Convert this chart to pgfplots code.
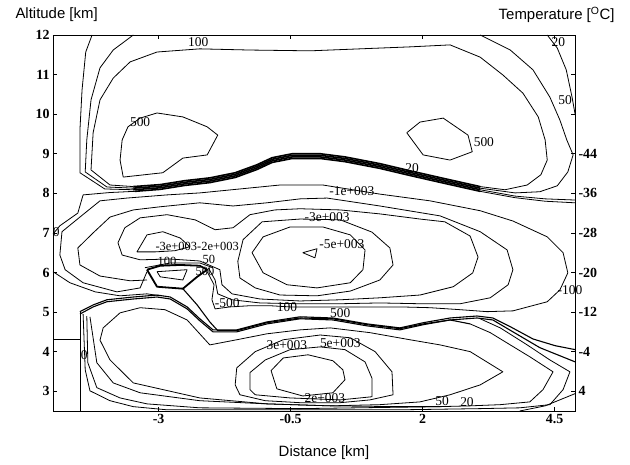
\documentclass[border=0pt]{standalone}
\usepackage{fontspec}
\setmainfont{Liberation Serif}
\newfontfamily\sansf{Liberation Sans}
\usepackage{pgfplots}
\pgfplotsset{compat=1.18}
\tikzset{c/.style={black, line width=0.8bp, line join=round},
  bd/.style={black, line width=1.6bp, line join=round},
  thk/.style={black, line width=1.8bp, line join=round},
  lab/.style={font=\fontsize{13.5}{13.5}\selectfont, inner sep=0pt},
  labs/.style={font=\fontsize{12.5}{12.5}\selectfont, inner sep=0pt}}
\begin{document}
\begin{tikzpicture}[x=1bp,y=1bp]
\useasboundingbox (-53,-54) rectangle (577,411);
\begin{axis}[
  at={(0,0)}, anchor=south west,
  scale only axis, width=522bp, height=376bp,
  xmin=-5, xmax=4.886, ymin=2.5, ymax=12,
  xtick={-3,-0.5,2,4.5}, xticklabels={-3,-0.5,2,4.5},
  ytick={3,4,5,6,7,8,9,10,11,12}, yticklabels={3,4,5,6,7,8,9,10,11,12},
  tick align=inside, major tick length=4bp,
  tick style={black, line width=0.6bp},
  ticklabel style={font=\bfseries\fontsize{14}{14}\selectfont},
  /pgf/number format/assume math mode=true,
  axis line style={black, line width=0.8bp},
  clip mode=individual,
]
% upper region: 20 line (left part thin, band part heavy)
\addplot[c] coordinates {(-4.26,12.00) (-4.38,11.57) (-4.45,10.61) (-4.49,9.60) (-4.49,8.52) (-4.02,8.11) (-3.48,8.09)};
\addplot[bd] coordinates {(-3.48,8.09) (-2.97,8.14) (-2.50,8.24) (-2.03,8.31) (-1.55,8.44) (-1.14,8.64) (-0.85,8.82) (-0.47,8.92) (0.06,8.92) (0.53,8.84) (1.19,8.67) (1.76,8.49) (2.42,8.29) (3.09,8.09)};
\addplot[c] coordinates {(3.09,8.09) (3.75,7.93) (4.32,7.86) (4.89,7.83)};
% 50 line
\addplot[c] coordinates {(-3.48,12.00) (-3.86,11.62) (-4.11,11.17) (-4.28,10.36) (-4.36,9.35) (-4.39,8.54) (-3.98,8.16) (-3.48,8.13)};
\addplot[bd] coordinates {(-3.48,8.13) (-2.97,8.18) (-2.50,8.28) (-2.03,8.35) (-1.55,8.48) (-1.14,8.68) (-0.85,8.86) (-0.47,8.96) (0.06,8.96) (0.53,8.88) (1.19,8.71) (1.76,8.53) (2.42,8.33) (3.09,8.13)};
\addplot[c] coordinates {(3.09,8.13) (3.75,8.01) (4.22,8.04) (4.55,8.19) (4.75,8.54) (4.85,8.97) (4.73,9.35) (4.60,9.85) (4.41,10.43) (4.09,11.12) (3.66,11.62) (3.09,12.00)};
% 100 line (closed)
\addplot[c] coordinates {(3.09,8.17) (3.56,8.09) (3.98,8.21) (4.24,8.47) (4.36,8.84) (4.32,9.35) (4.19,9.93) (3.90,10.53) (3.52,10.99) (3.09,11.44) (2.52,11.75) (1.76,11.70) (0.81,11.65) (-0.13,11.60) (-1.27,11.62) (-2.22,11.65) (-3.03,11.57) (-3.54,11.32) (-3.86,10.91) (-4.11,10.36) (-4.24,9.53) (-4.28,8.59) (-3.92,8.21) (-3.48,8.17)};
\addplot[bd] coordinates {(-3.48,8.17) (-2.97,8.22) (-2.50,8.32) (-2.03,8.39) (-1.55,8.52) (-1.14,8.72) (-0.85,8.90) (-0.47,9.00) (0.06,9.00) (0.53,8.92) (1.19,8.75) (1.76,8.57) (2.42,8.37) (3.09,8.17)};
\addplot[c] coordinates {(4.36,12.00) (4.55,11.67) (4.72,11.12) (4.83,10.43) (4.89,9.98)};
\addplot[c] coordinates {(-3.03,10.03) (-2.54,9.93) (-2.08,9.68) (-1.88,9.47) (-2.08,8.97) (-2.54,8.89) (-2.92,8.52) (-3.67,8.41) (-3.73,8.84) (-3.69,9.35) (-3.58,9.68) (-3.35,9.90) (-3.03,10.03)};
\addplot[c] coordinates {(1.70,9.53) (1.95,9.80) (2.39,9.90) (2.86,9.47) (2.94,9.05) (2.52,8.84) (2.01,8.97) (1.70,9.53)};
% zero line
\addplot[c] coordinates {(-5.00,6.97) (-4.87,7.18) (-4.53,7.50) (-4.43,7.96) (-3.92,8.02) (-3.45,8.05)};
\addplot[bd] coordinates {(-3.45,8.05) (-2.97,8.10) (-2.50,8.20) (-2.03,8.27) (-1.55,8.40) (-1.14,8.60) (-0.85,8.78) (-0.47,8.88) (0.06,8.88) (0.53,8.80) (1.19,8.63) (1.76,8.45) (2.42,8.25) (3.09,8.05)};
\addplot[c] coordinates {(3.09,8.05) (3.75,7.89) (4.32,7.80) (4.89,7.76)};
\addplot[c] coordinates {(-5.00,6.02) (-4.68,5.74) (-4.20,5.51) (-3.73,5.41) (-3.22,5.46) (-2.97,5.41)};
% negative region
\addplot[c] coordinates {(-3.22,6.02) (-3.35,5.61) (-3.79,5.51) (-4.43,5.74) (-4.77,6.07) (-4.87,6.44) (-4.83,7.03) (-4.49,7.40) (-4.11,7.81) (-3.60,7.88) (-2.84,7.96) (-2.22,8.01) (-1.46,8.11) (-0.70,8.21) (0.11,8.21) (1.19,7.98) (2.14,7.81) (3.09,7.56) (3.71,7.30) (4.36,6.90) (4.66,6.50) (4.75,5.99) (4.60,5.56) (4.36,5.26) (3.71,5.03) (3.22,5.01) (2.71,5.06) (2.14,5.11) (1.57,5.13) (1.00,5.13) (0.44,5.13) (-0.08,5.13) (-0.51,5.13) (-0.89,5.16) (-1.27,5.16) (-1.65,5.13) (-1.93,5.08) (-1.99,5.31) (-1.95,5.69) (-2.08,6.02)};
\addplot[c] coordinates {(-3.22,5.81) (-3.54,5.79) (-4.11,5.91) (-4.49,6.19) (-4.53,6.62) (-4.24,7.00) (-3.92,7.40) (-3.48,7.58) (-2.97,7.66) (-2.22,7.76) (-1.59,7.68) (-0.95,7.76) (-0.32,7.86) (0.19,7.88) (1.19,7.68) (2.33,7.43) (3.09,7.03) (3.60,6.57) (3.71,6.07) (3.62,5.69) (3.28,5.36) (2.71,5.21) (1.95,5.21) (1.19,5.23) (0.44,5.21) (-0.32,5.21) (-1.08,5.23) (-1.61,5.31) (-1.88,5.46) (-1.93,5.81) (-2.06,6.12)};
\addplot[c] coordinates {(-3.77,6.75) (-3.64,7.13) (-3.35,7.38) (-2.84,7.46) (-2.31,7.33) (-1.93,7.08) (-1.59,7.13) (-1.27,7.46) (-0.80,7.58) (-0.32,7.61) (0.44,7.58) (1.19,7.48) (1.95,7.35) (2.42,7.28) (2.90,6.92) (3.05,6.39) (2.95,5.99) (2.58,5.64) (1.95,5.43) (1.19,5.36) (0.44,5.31) (-0.32,5.28) (-1.08,5.33) (-1.61,5.46) (-1.80,5.69) (-1.84,6.07) (-2.22,6.29) (-2.78,6.34) (-3.35,6.32) (-3.69,6.44) (-3.77,6.75)};
\addplot[c] coordinates {(-1.50,6.28) (-1.40,6.83) (-1.04,7.28) (-0.32,7.35) (0.44,7.33) (1.04,7.02) (1.38,6.62) (1.44,6.19) (1.19,5.81) (0.63,5.53) (0.00,5.41) (-0.70,5.43) (-1.17,5.61) (-1.46,5.86) (-1.50,6.28)};
\addplot[c] coordinates {(-1.23,6.50) (-1.02,6.90) (-0.51,7.15) (0.11,7.15) (0.63,6.95) (0.91,6.57) (0.87,6.07) (0.63,5.74) (0.00,5.61) (-0.57,5.69) (-1.02,5.99) (-1.23,6.50)};
\addplot[c] coordinates {(-0.27,6.50) (0.00,6.60) (-0.04,6.37) (-0.27,6.50)};
\addplot[c] coordinates {(-3.41,6.52) (-3.22,6.95) (-2.92,7.03) (-2.59,6.87) (-2.41,6.65) (-2.69,6.55) (-3.07,6.52) (-3.41,6.52)};
% hexagon cluster
\addplot[thk] coordinates {(-3.22,6.07) (-3.03,5.64) (-2.54,5.59) (-2.27,5.89) (-2.08,6.07) (-2.22,6.17) (-2.59,6.19) (-2.97,6.17) (-3.22,6.07)};
\addplot[c] coordinates {(-3.03,6.02) (-2.46,6.07) (-2.54,5.81) (-2.97,5.89) (-3.03,6.02)};
\addplot[c] coordinates {(-3.26,6.12) (-2.78,6.24) (-2.22,6.24) (-1.97,6.12)};
% lower band
\addplot[c, line width=1.1bp] coordinates {(-4.49,5.01) (-4.24,5.18) (-3.98,5.31) (-3.48,5.38) (-3.03,5.43) (-2.78,5.38) (-2.46,5.13) (-2.22,4.83) (-1.97,4.55) (-1.52,4.55) (-0.95,4.75) (-0.32,4.88) (0.30,4.85) (0.95,4.70) (1.57,4.60) (2.01,4.73) (2.52,4.85) (3.03,4.90) (3.33,4.85) (3.66,4.63) (4.09,4.32) (4.51,4.15) (4.89,4.05)};
\addplot[c, line width=1.1bp] coordinates {(-4.49,4.95) (-4.24,5.13) (-3.98,5.26) (-3.48,5.33) (-3.03,5.38) (-2.78,5.33) (-2.46,5.08) (-2.22,4.78) (-1.97,4.50) (-1.52,4.50) (-0.95,4.70) (-0.32,4.83) (0.30,4.80) (0.95,4.65) (1.57,4.55) (2.01,4.68) (2.52,4.80) (3.03,4.85) (3.33,4.80) (3.71,4.50) (4.22,4.10) (4.89,3.74)};
\addplot[c, line width=1.1bp] coordinates {(-2.54,5.59) (-2.27,5.18) (-2.03,4.75) (-1.88,4.53) (-1.52,4.53) (-0.95,4.73) (-0.32,4.85) (0.30,4.83) (0.95,4.68) (1.57,4.58) (2.01,4.70) (2.52,4.80) (2.90,4.70)};
\addplot[c] coordinates {(2.90,4.70) (3.28,4.48) (3.66,4.17) (4.03,3.87) (4.47,3.49) (4.28,3.04) (4.03,2.73) (3.47,2.66) (2.90,2.63) (2.33,2.61) (-0.32,2.56) (-2.22,2.58) (-3.22,2.68) (-3.73,2.83) (-4.17,3.09) (-4.34,3.72) (-4.36,4.90)};
\addplot[c] coordinates {(3.09,4.83) (3.47,4.60) (3.98,4.17) (4.41,3.79) (4.79,3.49) (4.66,3.04) (4.41,2.66) (3.84,2.58) (3.09,2.56) (1.57,2.53) (-0.32,2.53) (-2.84,2.53) (-3.48,2.61) (-3.92,2.76) (-4.30,3.01) (-4.39,3.54) (-4.43,4.95)};
\addplot[c] coordinates {(-4.30,4.88) (-4.17,3.72) (-3.86,3.21) (-3.35,2.96) (-2.22,2.76) (-0.95,2.68) (0.25,2.63) (1.57,2.61) (2.33,2.61)};
\addplot[c] coordinates {(-4.05,4.60) (-3.73,4.98) (-3.35,5.11) (-2.88,5.06) (-2.46,4.80) (-2.03,4.17) (-1.52,4.30) (-0.95,4.45) (-0.32,4.55) (0.25,4.60) (1.00,4.48) (1.76,4.30) (2.33,4.17) (2.90,4.00) (3.52,3.49) (3.09,3.16) (2.52,2.91) (1.95,2.73) (1.19,2.66) (0.25,2.63) (-0.95,2.68) (-2.22,2.83) (-3.48,3.21) (-3.92,3.79) (-4.11,4.29) (-4.05,4.60)};
\addplot[c] coordinates {(-1.55,3.16) (-1.52,3.59) (-1.17,4.00) (-0.64,4.30) (0.06,4.42) (0.63,4.35) (1.10,4.00) (1.42,3.49) (1.44,2.91) (1.00,2.78) (0.44,2.71) (-0.32,2.71) (-0.98,2.76) (-1.46,2.91) (-1.55,3.16)};
\addplot[c] coordinates {(-1.27,3.04) (-1.27,3.47) (-0.98,3.79) (-0.51,4.05) (0.06,4.12) (0.53,4.05) (0.91,3.74) (1.04,3.33) (1.04,2.86) (0.44,2.78) (-0.51,2.83) (-1.17,2.91) (-1.27,3.04)};
\addplot[c] coordinates {(-0.87,3.52) (-0.76,3.06) (-0.27,2.88) (0.30,2.96) (0.53,3.29) (0.49,3.54) (0.30,3.77) (-0.17,3.92) (-0.64,3.84) (-0.87,3.52)};
\addplot[c] coordinates {(-4.49,5.01) (-4.49,2.50)};
\addplot[c] coordinates {(-5.00,4.32) (-4.49,4.32)};
\addplot[c] coordinates {(3.84,2.50) (4.32,2.63) (4.89,2.94)};
% contour labels
\node[lab] at (axis cs:-2.25,11.82) {100};
\node[lab] at (axis cs:-3.35,9.80) {500};
\node[lab] at (axis cs:4.57,11.82) {20};
\node[lab] at (axis cs:4.70,10.36) {50};
\node[lab] at (axis cs:3.16,9.30) {500};
\node[lab] at (axis cs:1.80,8.64) {20};
\node[lab] at (axis cs:0.66,8.06) {-1e+003};
\node[lab] at (axis cs:0.19,7.40) {-3e+003};
\node[lab] at (axis cs:0.47,6.72) {-5e+003};
\node[labs] at (axis cs:-2.27,6.66) {-3e+003-2e+003};
\node[labs] at (axis cs:-2.84,6.27) {100};
\node[labs] at (axis cs:-2.05,6.33) {50};
\node[labs] at (axis cs:-2.12,6.03) {500};
\node[lab] at (axis cs:-1.70,5.23) {-500};
\node[lab] at (axis cs:-0.57,5.13) {100};
\node[lab] at (axis cs:0.44,4.98) {500};
\node[lab] at (axis cs:4.79,5.56) {-100};
\node[lab] at (axis cs:-4.94,7.03) {0};
\node[lab] at (axis cs:-4.41,3.92) {0};
\node[lab] at (axis cs:-0.57,4.17) {3e+003};
\node[lab] at (axis cs:0.44,4.22) {5e+003};
\node[lab] at (axis cs:0.15,2.83) {2e+003};
\node[lab] at (axis cs:2.37,2.76) {50};
\node[lab] at (axis cs:2.84,2.73) {20};
\end{axis}
\begin{axis}[
  at={(0,0)}, anchor=south west,
  scale only axis, width=522bp, height=376bp,
  xmin=-5, xmax=4.886, ymin=2.5, ymax=12,
  xtick=\empty,
  ytick={3,4,5,6,7,8,9}, yticklabels={4,-4,-12,-20,-28,-36,-44},
  ytick pos=right, yticklabel pos=right,
  major tick length=0pt,
  axis line style={draw=none},
  ticklabel style={font=\bfseries\fontsize{14}{14}\selectfont},
]
\end{axis}
\node[anchor=west, font=\sansf\fontsize{15}{15}\selectfont] at (-41,396) {Altitude [km]};
\node[anchor=east, font=\sansf\fontsize{15}{15}\selectfont] at (565,396) {Temperature [\textsuperscript{O}C]};
\node[font=\sansf\fontsize{15}{15}\selectfont] at (271,-42) {Distance [km]};
\end{tikzpicture}
\end{document}
